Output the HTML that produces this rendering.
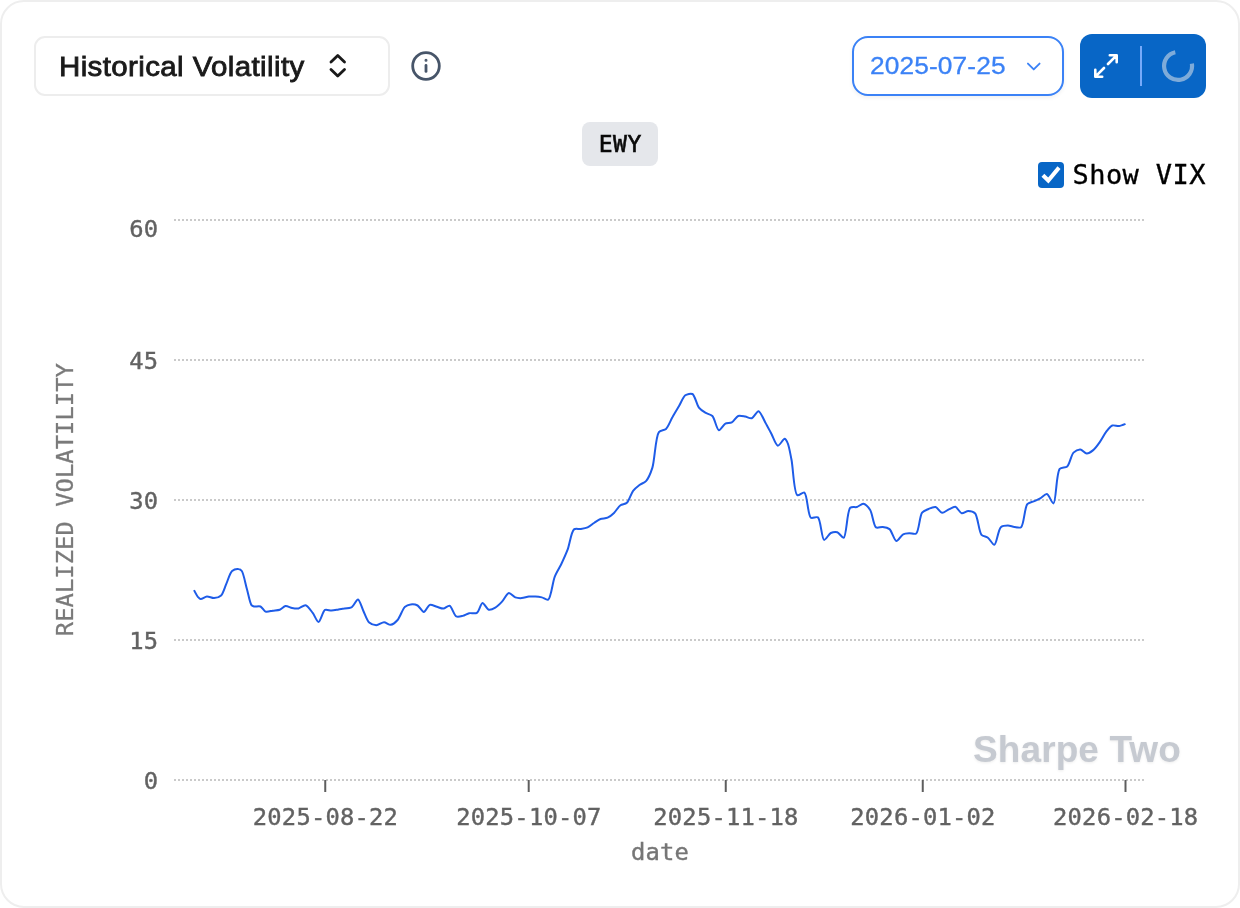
<!DOCTYPE html>
<html lang="en">
<head>
<meta charset="utf-8">
<title>Historical Volatility</title>
<style>
*{box-sizing:border-box;margin:0;padding:0}
html,body{width:1240px;height:908px;background:#fff;overflow:hidden}
body{font-family:"Liberation Sans",sans-serif;position:relative}
.card{position:absolute;left:0;top:0;width:1240px;height:908px;border:2px solid #eeeeee;border-radius:24px;background:#fff}
.sel{position:absolute;left:34px;top:36px;width:356px;height:60px;border:2px solid #ededed;border-radius:11px;background:#fff}
.sel span{position:absolute;left:23.3px;top:12.9px;font-size:26.8px;line-height:32px;color:#1a1a1a;white-space:nowrap;letter-spacing:0.35px;-webkit-text-stroke:0.8px #1a1a1a;transform:scaleX(1.10);transform-origin:0 0;display:block}
.sel svg{position:absolute;left:287.3px;top:13.3px}
.info{position:absolute;left:410px;top:50px}
.date{position:absolute;left:852px;top:36px;width:212px;height:60px;border:2px solid #3b82f6;border-radius:16px;background:#fff;box-shadow:0 2px 4px rgba(0,0,0,.06)}
.date span{position:absolute;left:16px;top:11.7px;font-size:23.6px;line-height:32px;color:#3b82f6;white-space:nowrap;letter-spacing:0.1px;-webkit-text-stroke:0.3px #3b82f6;transform:scaleX(1.115);transform-origin:0 0;display:block}
.date svg{position:absolute;left:169px;top:17.6px}
.btn{position:absolute;left:1080px;top:34px;width:126px;height:64px;border-radius:12px;background:#0866c6}
.btn .div{position:absolute;left:60px;top:12px;width:2px;height:40px;background:#76aafa}
.btn svg{position:absolute}
.badge{position:absolute;left:582px;top:122px;width:76px;height:44px;border-radius:8px;background:#e5e7eb;font-family:"DejaVu Sans Mono","Liberation Mono",monospace;font-size:23px;line-height:44px;text-align:center;color:#0a0a0a;letter-spacing:0.5px;text-indent:0.5px;-webkit-text-stroke:0.6px #0a0a0a}
.chk{position:absolute;left:1038px;top:162px;width:26px;height:26px;border-radius:4px;background:#0866c6}
.chk svg{position:absolute;left:0;top:0}
.vix{position:absolute;left:1072.6px;top:157.6px;font-family:"DejaVu Sans Mono","Liberation Mono",monospace;font-size:27px;line-height:34px;color:#000;white-space:nowrap;letter-spacing:0.4px;-webkit-text-stroke:0.35px #000}
.wm{position:absolute;left:973px;top:728.8px;font-size:37px;line-height:42px;font-weight:bold;color:#c6cad1;white-space:nowrap;letter-spacing:0.1px;text-shadow:0 1px 3px rgba(0,0,0,.08)}
svg.chart{position:absolute;left:0;top:0}
svg.chart text{font-family:"DejaVu Sans Mono","Liberation Mono",monospace;font-size:23.8px;letter-spacing:0.2px;fill:#626262;stroke:#626262;stroke-width:0.4px}
</style>
</head>
<body>
<div class="card">
</div>
<svg class="chart" width="1240" height="908" viewBox="0 0 1240 908">
<g stroke="#cacaca" stroke-width="2" stroke-dasharray="2 2" fill="none"><line x1="174" x2="1145" y1="220" y2="220"/><line x1="174" x2="1145" y1="360" y2="360"/><line x1="174" x2="1145" y1="500" y2="500"/><line x1="174" x2="1145" y1="640" y2="640"/><line x1="174" x2="1145" y1="780" y2="780"/></g>
<g stroke="#5e5e5e" stroke-width="2" fill="none"><line x1="325.25" x2="325.25" y1="780" y2="792"/><line x1="528.70" x2="528.70" y1="780" y2="792"/><line x1="725.75" x2="725.75" y1="780" y2="792"/><line x1="922.75" x2="922.75" y1="780" y2="792"/><line x1="1125.50" x2="1125.50" y1="780" y2="792"/></g>
<g><text x="158.4" y="237.3" text-anchor="end">60</text><text x="158.4" y="369.4" text-anchor="end">45</text><text x="158.4" y="509.4" text-anchor="end">30</text><text x="158.4" y="649.4" text-anchor="end">15</text><text x="158.4" y="789.4" text-anchor="end">0</text></g>
<g><text x="325.45" y="825.2" text-anchor="middle">2025-08-22</text><text x="528.90" y="825.2" text-anchor="middle">2025-10-07</text><text x="725.95" y="825.2" text-anchor="middle">2025-11-18</text><text x="922.95" y="825.2" text-anchor="middle">2026-01-02</text><text x="1125.70" y="825.2" text-anchor="middle">2026-02-18</text></g>
<text x="660" y="860.2" text-anchor="middle" style="fill:#767676;stroke:#767676">date</text>
<text transform="translate(73.3,499.6) rotate(-90)" text-anchor="middle" style="fill:#7a7a7a;stroke:#7a7a7a;stroke-width:0.3px;letter-spacing:0.05px">REALIZED VOLATILITY</text>
<path d="M194.0,590.1C194.0,590.1,196.8,595.5,197.9,596.8C198.7,597.7,199.7,599.0,200.7,599.1C202.0,599.3,205.1,596.6,206.9,596.4C208.7,596.2,212.1,598.2,214.0,598.1C216.0,598.0,219.5,597.0,221.1,595.5C223.1,593.6,224.8,587.2,226.3,583.9C227.8,580.5,229.9,572.9,232.1,571.0C233.6,569.7,237.1,568.8,238.5,569.0C239.6,569.1,241.0,569.9,241.8,571.0C243.6,573.4,245.5,584.2,246.9,589.0C248.2,593.5,249.9,603.3,251.5,605.2C252.1,606.0,253.1,606.3,254.0,606.5C255.3,606.8,258.9,605.9,260.5,606.5C262.1,607.2,263.9,611.0,265.6,611.6C267.3,612.2,270.8,611.0,272.7,610.7C274.6,610.4,278.0,610.3,279.8,609.7C281.5,609.1,283.9,606.3,285.6,606.1C287.3,605.9,290.3,607.7,292.1,608.0C293.8,608.3,296.7,608.7,298.5,608.4C300.4,608.0,303.8,604.8,305.6,605.2C307.7,605.6,310.9,610.6,312.7,612.9C314.5,615.2,316.9,622.0,318.5,621.9C320.3,621.8,322.8,611.1,325.0,609.9C326.6,609.1,329.7,610.7,331.5,610.6C333.4,610.5,336.8,609.7,338.5,609.4C339.8,609.2,341.3,609.0,342.7,608.8C344.7,608.5,349.7,608.3,351.8,607.1C353.9,605.8,356.5,599.2,358.0,599.4C359.7,599.6,361.9,607.8,363.4,611.0C364.9,614.2,367.1,620.7,369.2,622.6C370.8,624.1,374.3,625.2,376.3,625.2C378.4,625.2,382.0,622.2,384.0,622.2C385.9,622.2,388.9,625.0,390.7,624.8C392.6,624.6,395.9,621.9,397.6,620.0C399.9,617.5,402.5,609.2,404.7,607.1C406.2,605.8,408.8,604.7,410.5,604.5C412.3,604.2,415.9,604.6,417.6,605.5C419.5,606.5,422.1,612.0,423.8,612.0C425.5,611.9,427.9,605.5,429.8,604.9C431.5,604.4,435.0,606.3,436.9,606.8C438.7,607.3,441.7,608.7,443.4,608.6C445.1,608.5,448.1,605.3,449.6,605.8C451.7,606.4,454.1,615.3,456.3,616.4C457.9,617.2,461.0,616.3,462.7,615.9C464.5,615.5,467.3,613.6,469.2,613.2C471.2,612.8,475.2,614.0,476.9,612.9C479.0,611.6,480.8,603.2,482.5,603.0C484.0,602.8,486.8,609.2,488.7,609.7C490.4,610.1,493.6,608.7,495.3,607.7C497.2,606.6,500.1,603.7,501.8,601.9C503.8,599.8,506.9,593.2,508.9,592.9C510.6,592.7,513.4,596.7,515.3,597.4C517.0,598.0,520.0,598.2,521.8,598.1C523.7,598.0,527.0,596.7,528.9,596.5C530.7,596.3,533.5,596.4,535.3,596.5C537.1,596.6,540.1,597.0,541.8,597.4C543.6,597.8,546.7,600.4,548.2,599.6C551.0,598.2,552.6,582.0,554.7,576.8C556.3,572.8,559.4,568.0,561.1,564.5C562.9,560.7,565.9,554.1,567.6,549.7C569.5,544.6,571.3,531.5,574.0,529.4C575.5,528.2,578.7,529.3,580.5,529.0C582.4,528.7,585.8,528.2,587.6,527.4C589.5,526.6,592.2,524.2,594.0,523.0C595.8,521.9,598.6,519.7,600.5,519.0C602.3,518.3,605.8,518.5,607.6,517.7C609.5,516.9,612.3,514.5,614.0,512.9C615.9,511.1,618.5,506.6,620.5,505.2C622.1,504.1,625.4,504.2,626.9,502.8C629.0,500.9,631.1,493.4,633.1,490.8C634.7,488.8,637.7,486.4,639.5,485.0C641.2,483.7,644.4,482.8,646.0,481.1C648.2,478.7,650.9,472.3,652.4,467.6C654.7,460.3,655.5,436.5,658.9,432.1C660.5,430.1,664.3,430.5,666.0,428.9C668.2,426.9,670.6,420.4,672.4,417.3C674.1,414.2,677.1,409.3,678.9,406.3C680.7,403.3,683.1,396.9,685.3,395.3C687.0,394.1,690.8,393.2,692.4,394.0C694.8,395.2,696.8,404.9,698.9,407.6C700.5,409.6,703.4,411.5,705.3,412.7C707.1,413.8,710.7,414.3,712.4,416.0C714.7,418.4,716.8,429.8,718.9,430.2C720.5,430.5,723.4,424.7,725.3,423.7C726.9,422.8,730.2,423.3,731.8,422.4C733.7,421.4,736.2,416.7,738.2,416.0C740.0,415.4,743.4,416.3,745.3,416.6C747.1,416.9,750.1,418.7,751.8,418.2C753.8,417.6,756.8,411.0,758.5,411.2C760.5,411.4,763.5,419.3,765.3,422.4C767.1,425.5,769.8,430.8,771.5,434.0C773.2,437.2,775.9,445.4,777.9,445.7C779.6,445.9,783.2,438.7,784.6,438.8C785.6,438.9,786.9,441.3,787.6,442.9C789.0,445.9,790.4,454.2,791.5,459.7C793.1,467.6,793.9,493.2,797.3,495.2C798.9,496.1,802.8,491.8,804.4,492.6C807.3,494.2,807.8,515.4,810.8,517.7C812.4,518.9,816.3,516.2,817.9,517.4C820.8,519.5,821.7,539.3,824.1,539.9C825.6,540.3,828.8,534.0,830.8,533.0C832.5,532.2,835.6,531.7,837.3,532.2C839.2,532.8,842.2,538.2,843.7,537.7C846.5,536.8,847.0,510.7,850.2,507.8C851.7,506.4,855.1,507.5,856.9,507.0C858.7,506.5,861.6,503.6,863.3,503.8C865.2,504.1,868.6,507.6,870.2,510.0C872.4,513.4,873.5,525.7,876.0,527.4C877.5,528.4,880.9,526.8,882.7,527.0C884.6,527.2,887.9,527.8,889.5,529.1C891.8,530.9,894.3,540.7,896.4,541.0C898.1,541.2,901.1,535.3,903.1,534.3C904.7,533.4,907.7,533.3,909.5,533.2C911.3,533.1,914.7,534.6,916.2,533.5C918.9,531.6,919.6,515.8,922.1,512.6C923.6,510.8,926.7,509.8,928.5,509.0C930.3,508.2,933.8,506.6,935.6,507.0C937.5,507.5,940.2,512.6,942.1,512.8C943.8,513.0,947.0,510.2,948.8,509.4C950.6,508.6,953.6,506.5,955.3,506.8C957.2,507.2,959.8,512.8,961.7,513.2C963.4,513.6,966.4,511.0,968.2,511.0C970.0,511.0,973.5,511.6,975.0,513.2C977.8,516.0,978.9,531.8,981.5,534.8C983.0,536.5,986.3,536.5,987.9,537.7C989.8,539.1,992.8,545.1,994.4,544.8C996.6,544.4,998.2,529.5,1000.8,527.2C1002.4,525.8,1006.0,525.5,1007.9,525.5C1009.7,525.5,1012.6,526.7,1014.4,526.9C1016.2,527.1,1019.6,528.3,1021.1,527.2C1023.9,525.1,1024.6,507.3,1027.3,504.2C1028.8,502.5,1031.9,502.2,1033.7,501.4C1035.5,500.6,1038.4,499.4,1040.2,498.4C1042.1,497.4,1045.2,493.8,1046.9,494.1C1048.9,494.5,1052.0,503.7,1053.5,503.4C1056.1,502.8,1056.2,472.9,1059.7,468.9C1061.3,467.0,1065.5,468.0,1067.2,466.5C1069.6,464.4,1071.2,454.9,1073.5,452.6C1075.1,451.0,1078.5,449.3,1080.3,449.4C1082.1,449.5,1084.9,453.4,1086.7,453.5C1088.4,453.6,1091.3,451.7,1092.9,450.4C1094.9,448.8,1097.9,444.7,1099.6,442.3C1101.5,439.7,1104.2,434.3,1106.1,431.9C1107.7,429.8,1110.4,426.2,1112.3,425.5C1114.0,424.9,1117.2,426.3,1119.0,426.1C1120.8,425.9,1125.5,423.9,1125.5,423.9" fill="none" stroke="#1e5ce8" stroke-width="2" stroke-linejoin="round" stroke-linecap="butt"/>
</svg>
<div class="sel"><span>Historical Volatility</span>
<svg width="29.5" height="29.5" viewBox="0 0 24 24" fill="none" stroke="#1a1a1a" stroke-width="2.3" stroke-linecap="round" stroke-linejoin="round"><path d="M6.5 9 L12 3.6 L17.5 9"/><path d="M6.5 15 L12 20.4 L17.5 15"/></svg>
</div>
<svg class="info" width="32" height="32" viewBox="0 0 32 32" fill="none" stroke="#475569" stroke-width="2.8" stroke-linecap="round"><circle cx="16" cy="16" r="13.3"/><path d="M16 15.4 V21.4" /><circle cx="16" cy="10.3" r="0.6" fill="#475569" stroke-width="1.8"/></svg>
<div class="date"><span>2025-07-25</span>
<svg width="21.5" height="21.5" viewBox="0 0 24 24" fill="none" stroke="#3b82f6" stroke-width="2.1" stroke-linecap="round" stroke-linejoin="round"><path d="M5.5 8.5 L12 15 L18.5 8.5"/></svg>
</div>
<div class="btn">
<svg style="left:14px;top:20px" width="24" height="24" viewBox="0 0 24 24" fill="none" stroke="#fff" stroke-width="2.6" stroke-linecap="round" stroke-linejoin="round"><path d="M14 10 L22.6 1.4 M15.8 1.3 H22.7 V8.2"/><path d="M10 14 L1.4 22.6 M8.2 22.7 H1.3 V15.8"/></svg>
<div class="div"></div>
<svg style="left:80px;top:14px" width="36" height="36" viewBox="0 0 36 36" fill="none" stroke="#7eabd9" stroke-width="4.2" stroke-linecap="butt"><path d="M15.3 4.2 A14 14 0 1 0 31.9 15.6"/></svg>
</div>
<div class="badge">EWY</div>
<div class="chk"><svg width="26" height="26" viewBox="0 0 26 26" fill="none" stroke="#fff" stroke-width="4" stroke-linecap="butt" stroke-linejoin="miter"><path d="M4.9 13.2 L10.3 18.5 L21 5.6"/></svg></div>
<div class="vix">Show VIX</div>
<div class="wm">Sharpe Two</div>
</body>
</html>
